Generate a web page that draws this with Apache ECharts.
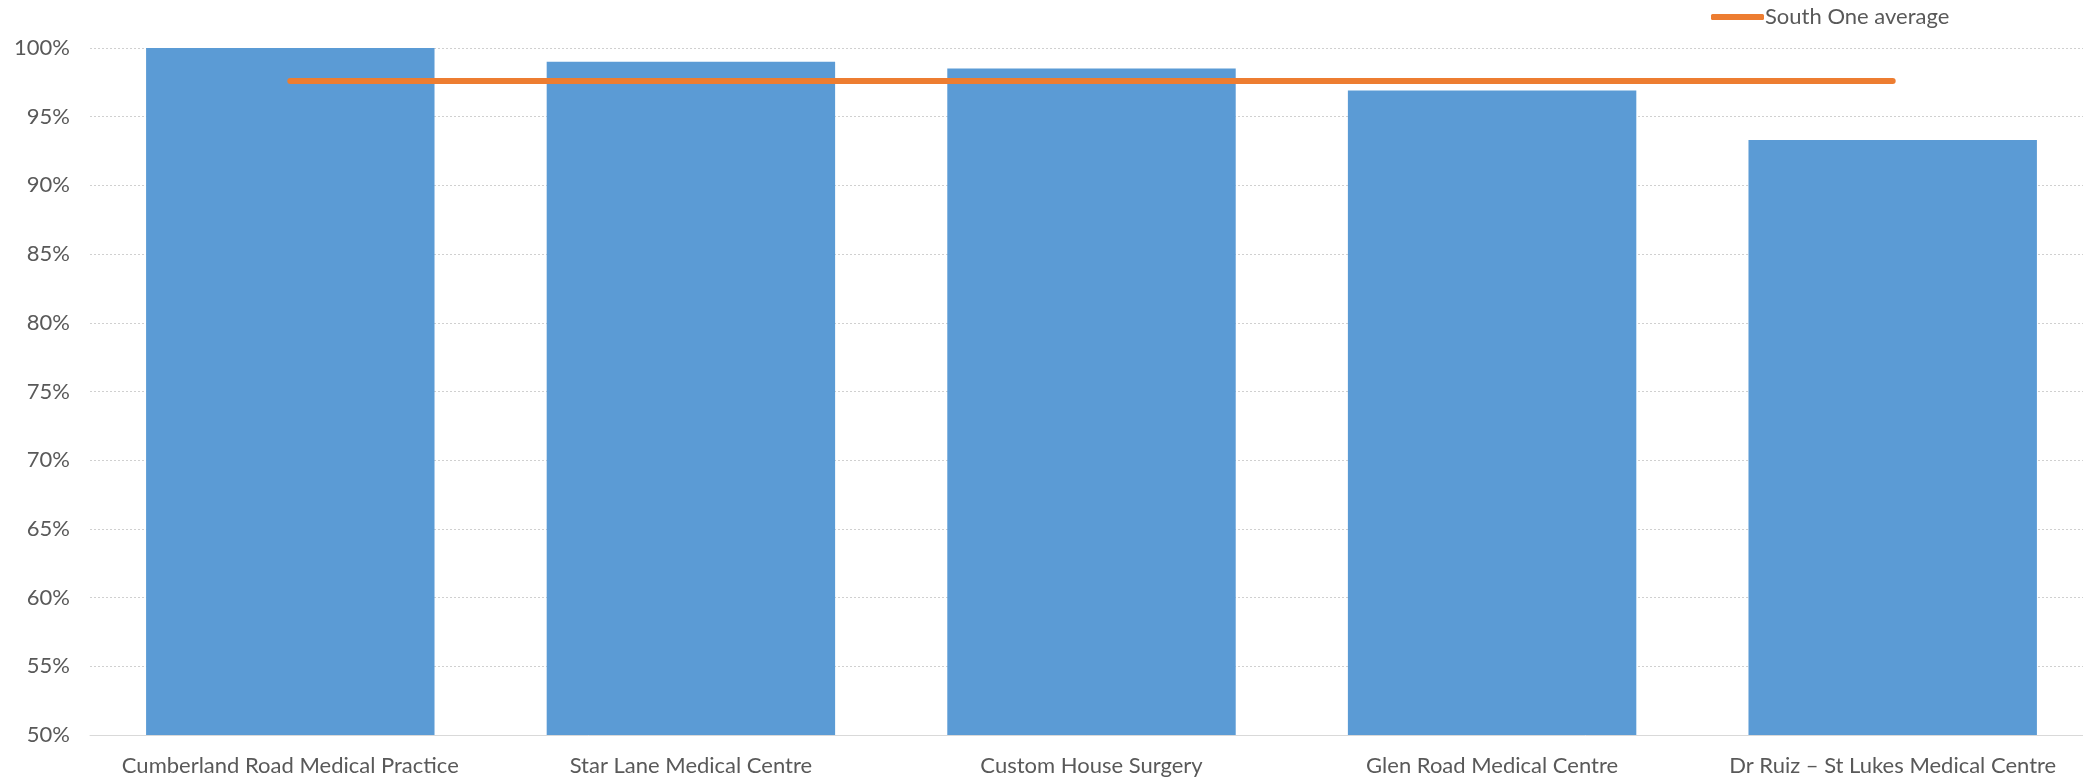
<!DOCTYPE html>
<html><head><meta charset="utf-8">
<script src="https://cdn.jsdelivr.net/npm/echarts@6/dist/echarts.min.js"></script>
<style>html,body{margin:0;padding:0;background:#fff}#c{width:2083px;height:778px}</style>
</head><body><div id="c"></div>
<script>
const categories = ["Cumberland Road Medical Practice","Star Lane Medical Centre","Custom House Surgery","Glen Road Medical Centre","Dr Ruiz \u2013 St Lukes Medical Centre"];
const practiceValues = [100, 99.0, 98.5, 96.9, 93.3];
const averageValues = [97.6, 97.6, 97.6, 97.6, 97.6];
const averageName = "South One average";

const FONT = "Lato";
const chart = echarts.init(document.getElementById('c'), null, {renderer:'canvas'});
chart.setOption({
  animation:false,
  textStyle:{fontFamily:FONT},
  legend:{
    data:[{name:averageName,icon:'roundRect'}],
    left:1706, top:1,
    itemWidth:53, itemHeight:6, itemGap:0,
    textStyle:{fontFamily:FONT,fontSize:22,color:'#595959',padding:[0,0,0,-4]}
  },
  grid:{left:90,right:-10,top:48,bottom:43,containLabel:false,outerBoundsMode:'none'},
  xAxis:{
    type:'category', data:categories,
    axisLine:{show:true,lineStyle:{color:'#d9d9d9',width:1}},
    axisTick:{show:false},
    axisLabel:{fontFamily:FONT,fontSize:22,color:'#595959',margin:20,interval:0}
  },
  yAxis:{
    type:'value', min:50, max:100, interval:5,
    axisLine:{show:false}, axisTick:{show:false},
    axisLabel:{fontFamily:FONT,fontSize:22,color:'#595959',margin:20,formatter:v=>v+'%'},
    splitLine:{show:true,lineStyle:{color:'#d0d0d0',type:[2,2],width:1}}
  },
  series:[
    {type:'bar',name:'Practice',data:practiceValues,barCategoryGap:'28%',itemStyle:{color:'#5B9BD5'}},
    {type:'line',name:averageName,data:averageValues,showSymbol:false,symbol:'none',
     lineStyle:{color:'#ED7D31',width:6,cap:'round'},itemStyle:{color:'#ED7D31'}}
  ]
});
</script></body></html>
